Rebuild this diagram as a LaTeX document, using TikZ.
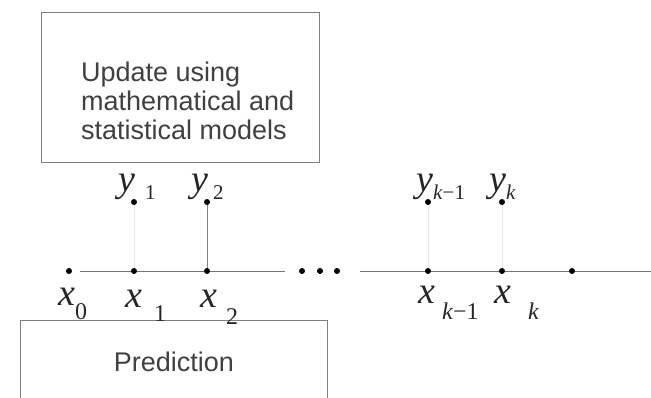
\documentclass[tikz,border=0pt]{standalone}
\usepackage{fontspec}
\setmainfont{Liberation Sans}
\newfontfamily\labserif{Liberation Serif}
\newcommand{\biglet}[1]{{\labserif\fontsize{38}{38}\selectfont\itshape #1}}
\newcommand{\sublet}[1]{{\labserif\fontsize{24}{24}\selectfont #1}}
\newcommand{\ysublet}[1]{{\labserif\fontsize{21}{21}\selectfont #1}}
\begin{document}
\begin{tikzpicture}[x=1pt,y=-1pt,
  dotnode/.style={circle,fill=black,inner sep=0pt,minimum size=6pt},
  axisline/.style={draw=black!55,line width=0.9pt},
  obsline/.style={draw=black!10,line width=1pt},
  obslinedark/.style={draw=black!50,line width=0.8pt},
  boxline/.style={draw=black!50,line width=1pt},
  boxtext/.style={text=black!75,font=\fontsize{27}{29}\selectfont,inner sep=0pt},
  lab/.style={anchor=base west,inner sep=0pt,text=black!85}]
\useasboundingbox (0,0) rectangle (651,397);
\clip (0,0) rectangle (651,397);
% update box
\node[boxline,minimum width=278pt,minimum height=150pt,inner sep=0pt] (upd) at (180,87) {};
\node[boxtext,align=left,anchor=west] (updtext) at (81,101) {Update using\\mathematical and\\statistical models};
% prediction box
\coordinate (pbl) at (20,400);
\coordinate (ptl) at (20,320);
\coordinate (ptr) at (327,320);
\coordinate (pbr) at (327,400);
\draw[boxline] (pbl) -- (ptl) -- (ptr) -- (pbr);
\node[boxtext] (pred) at (174,362) {Prediction};
% state dots
\node[dotnode] (x0) at (69,271) {};
\node[dotnode] (x1) at (134,271) {};
\node[dotnode] (x2) at (207,271) {};
\node[dotnode] (d1) at (302,271) {};
\node[dotnode] (d2) at (320,271) {};
\node[dotnode] (d3) at (337,271) {};
\node[dotnode] (xk1) at (428,271) {};
\node[dotnode] (xk) at (502,271) {};
\node[dotnode] (xn) at (572,271) {};
\coordinate (s1) at (80,271);
\coordinate (e1) at (285,271);
\coordinate (s2) at (360,271);
\coordinate (e2) at (652,271);
% observation dots
\node[dotnode] (y1) at (134,202) {};
\node[dotnode] (y2) at (207,202) {};
\node[dotnode] (yk1) at (428,202) {};
\node[dotnode] (yk) at (502,202) {};
% lines
\draw[axisline] (s1) -- (x1) -- (x2) -- (e1);
\draw[axisline] (s2) -- (xk1) -- (xk) -- (xn) -- (e2);
\draw[obsline] (y1) -- (x1);
\draw[obslinedark] (y2) -- (x2);
\draw[obsline] (yk1) -- (xk1);
\draw[obsline] (yk) -- (xk);
% x labels
\node[lab] (lx0) at (58,305) {\biglet{x}\raisebox{-14pt}{\sublet{0}}};
\node[lab] (lx1) at (125,307) {\biglet{x}\hspace{12pt}\raisebox{-14pt}{\sublet{1}}};
\node[lab] (lx2) at (200,307) {\biglet{x}\hspace{9pt}\raisebox{-17pt}{\sublet{2}}};
\node[lab] (lxk1) at (418,303) {\biglet{x}\hspace{7pt}\raisebox{-16pt}{\sublet{\textit{k}−1}}};
\node[lab] (lxk) at (494,303) {\biglet{x}\hspace{17pt}\raisebox{-16pt}{\sublet{\textit{k}}}};
% y labels
\node[lab] (ly1) at (118,191) {\biglet{y}\hspace{10pt}\raisebox{-8pt}{\ysublet{1}}};
\node[lab] (ly2) at (191,191) {\biglet{y}\hspace{5pt}\raisebox{-8pt}{\ysublet{2}}};
\node[lab] (lyk1) at (416,191) {\biglet{y}\raisebox{-8pt}{\ysublet{\textit{k}−1}}};
\node[lab] (lyk) at (489,191) {\biglet{y}\raisebox{-8pt}{\ysublet{\textit{k}}}};
\end{tikzpicture}
\end{document}
